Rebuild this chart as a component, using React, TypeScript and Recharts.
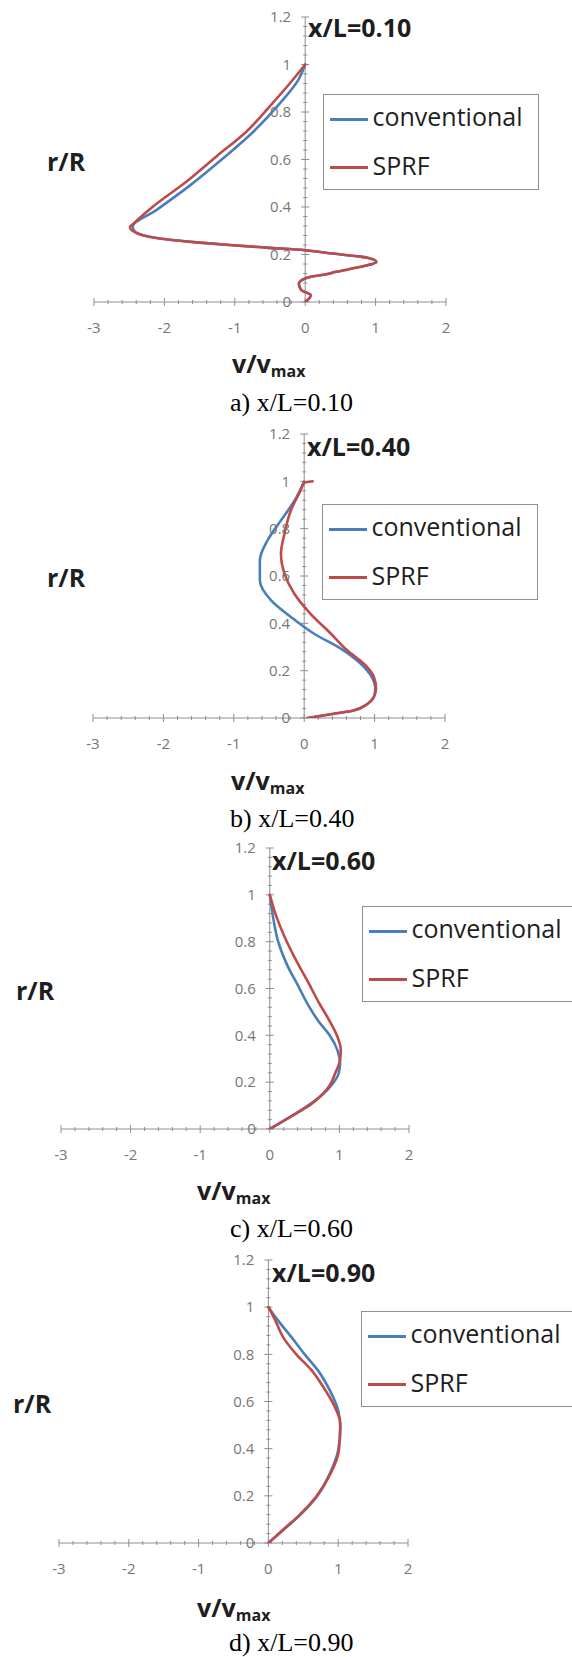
import { ComposedChart, Scatter, XAxis, YAxis, ReferenceLine, Legend } from 'recharts';

// -----------------------------------------------------------------------------
// Radial velocity profiles v/vmax vs r/R at four axial stations x/L
// -----------------------------------------------------------------------------

type Pt = { r: number; v: number };

// x/L = 0.10
const CONV_010: Pt[] = [
  { r: 0, v: 0 }, { r: 0.028, v: 0.08 }, { r: 0.052, v: -0.06 }, { r: 0.077, v: -0.09 },
  { r: 0.098, v: -0.01 }, { r: 0.108, v: 0.11 }, { r: 0.117, v: 0.3 }, { r: 0.126, v: 0.42 },
  { r: 0.147, v: 0.77 }, { r: 0.169, v: 1.01 }, { r: 0.187, v: 0.87 }, { r: 0.204, v: 0.39 },
  { r: 0.218, v: 0 }, { r: 0.229, v: -0.55 }, { r: 0.239, v: -1.03 }, { r: 0.25, v: -1.5 },
  { r: 0.264, v: -1.98 }, { r: 0.281, v: -2.3 }, { r: 0.3, v: -2.43 }, { r: 0.318, v: -2.45 },
  { r: 0.386, v: -2.12 }, { r: 0.49, v: -1.64 }, { r: 0.604, v: -1.17 }, { r: 0.716, v: -0.74 },
  { r: 0.836, v: -0.36 }, { r: 0.934, v: -0.1 }, { r: 1.0, v: 0 },
];
const SPRF_010: Pt[] = [
  { r: 0, v: 0 }, { r: 0.028, v: 0.08 }, { r: 0.052, v: -0.06 }, { r: 0.077, v: -0.09 },
  { r: 0.098, v: -0.01 }, { r: 0.108, v: 0.11 }, { r: 0.117, v: 0.3 }, { r: 0.126, v: 0.42 },
  { r: 0.147, v: 0.77 }, { r: 0.169, v: 1.01 }, { r: 0.187, v: 0.87 }, { r: 0.204, v: 0.39 },
  { r: 0.218, v: 0 }, { r: 0.229, v: -0.55 }, { r: 0.239, v: -1.03 }, { r: 0.25, v: -1.5 },
  { r: 0.264, v: -1.98 }, { r: 0.281, v: -2.31 }, { r: 0.299, v: -2.45 }, { r: 0.316, v: -2.49 },
  { r: 0.33, v: -2.44 }, { r: 0.4, v: -2.17 }, { r: 0.506, v: -1.69 }, { r: 0.611, v: -1.27 },
  { r: 0.716, v: -0.84 }, { r: 0.822, v: -0.51 }, { r: 0.92, v: -0.22 }, { r: 1.0, v: 0 },
];

// x/L = 0.40
const CONV_040: Pt[] = [
  { r: 0, v: 0.05 }, { r: 0.018, v: 0.42 }, { r: 0.032, v: 0.7 }, { r: 0.058, v: 0.89 },
  { r: 0.089, v: 0.99 }, { r: 0.124, v: 1.01 }, { r: 0.173, v: 0.96 }, { r: 0.23, v: 0.8 },
  { r: 0.293, v: 0.52 }, { r: 0.356, v: 0.14 }, { r: 0.427, v: -0.19 }, { r: 0.497, v: -0.47 },
  { r: 0.582, v: -0.63 }, { r: 0.666, v: -0.63 }, { r: 0.751, v: -0.52 }, { r: 0.835, v: -0.33 },
  { r: 0.927, v: -0.12 }, { r: 1.0, v: 0 },
];
const SPRF_040: Pt[] = [
  { r: 0, v: 0.05 }, { r: 0.018, v: 0.42 }, { r: 0.032, v: 0.7 }, { r: 0.058, v: 0.89 },
  { r: 0.089, v: 0.99 }, { r: 0.124, v: 1.02 }, { r: 0.173, v: 0.99 }, { r: 0.223, v: 0.87 },
  { r: 0.286, v: 0.61 }, { r: 0.356, v: 0.38 }, { r: 0.44, v: 0.09 }, { r: 0.525, v: -0.14 },
  { r: 0.61, v: -0.28 }, { r: 0.694, v: -0.33 }, { r: 0.779, v: -0.28 }, { r: 0.877, v: -0.19 },
  { r: 0.962, v: -0.05 }, { r: 0.993, v: 0 }, { r: 1.0, v: 0.12 },
];

// x/L = 0.60
const CONV_060: Pt[] = [
  { r: 0, v: 0 }, { r: 0.06, v: 0.34 }, { r: 0.117, v: 0.63 }, { r: 0.181, v: 0.87 },
  { r: 0.238, v: 0.99 }, { r: 0.281, v: 1.01 }, { r: 0.338, v: 0.97 }, { r: 0.4, v: 0.86 },
  { r: 0.46, v: 0.7 }, { r: 0.53, v: 0.55 }, { r: 0.61, v: 0.41 }, { r: 0.7, v: 0.25 },
  { r: 0.8, v: 0.12 }, { r: 0.9, v: 0.05 }, { r: 1.0, v: 0 },
];
const SPRF_060: Pt[] = [
  { r: 0, v: 0 }, { r: 0.053, v: 0.3 }, { r: 0.103, v: 0.58 }, { r: 0.181, v: 0.85 },
  { r: 0.238, v: 0.94 }, { r: 0.295, v: 1.01 }, { r: 0.338, v: 1.02 }, { r: 0.395, v: 0.97 },
  { r: 0.466, v: 0.85 }, { r: 0.537, v: 0.71 }, { r: 0.622, v: 0.56 }, { r: 0.736, v: 0.35 },
  { r: 0.822, v: 0.21 }, { r: 0.92, v: 0.08 }, { r: 1.0, v: 0 },
];

// x/L = 0.90
const CONV_090: Pt[] = [
  { r: 0, v: 0 }, { r: 0.054, v: 0.21 }, { r: 0.117, v: 0.45 }, { r: 0.195, v: 0.69 },
  { r: 0.294, v: 0.88 }, { r: 0.393, v: 1.0 }, { r: 0.49, v: 1.03 }, { r: 0.562, v: 1.0 },
  { r: 0.647, v: 0.88 }, { r: 0.732, v: 0.71 }, { r: 0.8, v: 0.52 }, { r: 0.873, v: 0.33 },
  { r: 0.943, v: 0.14 }, { r: 1.0, v: 0 },
];
const SPRF_090: Pt[] = [
  { r: 0, v: 0 }, { r: 0.054, v: 0.2 }, { r: 0.117, v: 0.44 }, { r: 0.195, v: 0.68 },
  { r: 0.294, v: 0.89 }, { r: 0.393, v: 1.01 }, { r: 0.506, v: 1.03 }, { r: 0.59, v: 0.93 },
  { r: 0.66, v: 0.79 }, { r: 0.732, v: 0.62 }, { r: 0.8, v: 0.4 }, { r: 0.873, v: 0.21 },
  { r: 0.943, v: 0.1 }, { r: 1.0, v: 0 },
];

const STATIONS = ['0.10', '0.40', '0.60', '0.90'];
const CAPTION_LETTERS = ['a', 'b', 'c', 'd'];
const SERIES_NAMES = ['conventional', 'SPRF'];
const CONV_DATA = [CONV_010, CONV_040, CONV_060, CONV_090];
const SPRF_DATA = [SPRF_010, SPRF_040, SPRF_060, SPRF_090];

const X_TICKS = [-3, -2, -1, 0, 1, 2];
const Y_TICKS = [0, 0.2, 0.4, 0.6, 0.8, 1, 1.2];
const X_DOMAIN: [number, number] = [-3, 2];
const Y_DOMAIN: [number, number] = [0, 1.2];

// minor ticks: 0.2 on v, 0.04 on r
const X_MINOR: number[] = [];
for (let i = -15; i <= 10; i++) if (i % 5 !== 0) X_MINOR.push(i / 5);
const Y_MINOR: number[] = [];
for (let i = 0; i <= 30; i++) if (i % 5 !== 0) Y_MINOR.push(i / 25);

// =============================================================================
// Styling / layout
// =============================================================================

const FONT = "'Open Sans', 'DejaVu Sans', sans-serif";
const SERIF = "'Liberation Serif', 'Times New Roman', serif";
const COLORS = ['#4a7ebb', '#be4b48'];
const AXIS = '#8e8e8e';
const TICK_TEXT = '#767676';
const INK = '#1e1e1e';
const PAGE_W = 572;
const PAGE_H = 1657;
const PAD_TOP = 12;
const AXIS_H = 40;

type Box = { left: number; top: number };
interface PanelLayout {
  plot: { left: number; right: number; top: number; bottom: number };
  legend: Box & { width: number };
  title: Box;
  rLabel: Box;
  vLabel: Box;
  caption: Box;
}

const LAYOUT: PanelLayout[] = [
  {
    plot: { left: 94, right: 446, top: 17, bottom: 302 },
    legend: { left: 323, top: 94, width: 216 },
    title: { left: 308, top: 15 },
    rLabel: { left: 47, top: 149 },
    vLabel: { left: 232, top: 351 },
    caption: { left: 230, top: 390 },
  },
  {
    plot: { left: 93, right: 445, top: 434, bottom: 718 },
    legend: { left: 322, top: 504, width: 216 },
    title: { left: 307, top: 434 },
    rLabel: { left: 47, top: 565 },
    vLabel: { left: 231, top: 768 },
    caption: { left: 230, top: 806 },
  },
  {
    plot: { left: 61, right: 409, top: 848, bottom: 1129 },
    legend: { left: 362, top: 906, width: 230 },
    title: { left: 272, top: 848 },
    rLabel: { left: 16, top: 978 },
    vLabel: { left: 197, top: 1178 },
    caption: { left: 230, top: 1216 },
  },
  {
    plot: { left: 59, right: 408, top: 1260, bottom: 1543 },
    legend: { left: 361, top: 1311, width: 230 },
    title: { left: 272, top: 1260 },
    rLabel: { left: 13, top: 1391 },
    vLabel: { left: 197, top: 1595 },
    caption: { left: 229, top: 1630 },
  },
];

// =============================================================================
// Legend
// =============================================================================

function LegendBox({ width }: { width: number }) {
  const lineTops = [23, 71];
  const textTops = [9, 58];
  return (
    <div
      style={{
        position: 'relative',
        width,
        height: 96,
        boxSizing: 'border-box',
        border: `1.5px solid ${AXIS}`,
        background: '#fff',
        fontFamily: FONT,
        fontSize: 25,
        lineHeight: 1,
        color: INK,
      }}
    >
      {SERIES_NAMES.map((name, i) => (
        <div key={name}>
          <div
            style={{
              position: 'absolute',
              left: 5.5,
              top: lineTops[i],
              width: 38,
              height: 2.5,
              background: COLORS[i],
            }}
          />
          <div style={{ position: 'absolute', left: 48.5, top: textTops[i], whiteSpace: 'nowrap' }}>{name}</div>
        </div>
      ))}
    </div>
  );
}

const renderNone = () => <g />;

// =============================================================================
// One profile panel
// =============================================================================

function ProfilePanel({ idx }: { idx: number }) {
  const lay = LAYOUT[idx];
  const { plot } = lay;
  const chartTop = plot.top - PAD_TOP;
  const chartH = plot.bottom - plot.top + PAD_TOP + AXIS_H;
  const plotW = plot.right - plot.left;
  const plotH = plot.bottom - plot.top;

  // tick half-lengths in data units (major 4px, minor 2px)
  const vPerPx = (X_DOMAIN[1] - X_DOMAIN[0]) / plotW;
  const rPerPx = (Y_DOMAIN[1] - Y_DOMAIN[0]) / plotH;

  const labelStyle = { fontFamily: FONT, fontWeight: 700, fontSize: 25, lineHeight: 1, color: INK };

  return (
    <>
      <div style={{ position: 'absolute', left: 0, top: chartTop }}>
        <ComposedChart
          width={PAGE_W}
          height={chartH}
          margin={{ top: PAD_TOP, right: PAGE_W - plot.right, bottom: 0, left: plot.left }}
        >
          <XAxis
            type="number"
            dataKey="v"
            domain={X_DOMAIN}
            ticks={X_TICKS}
            interval={0}
            allowDataOverflow
            height={AXIS_H}
            tickLine={false}
            axisLine={{ stroke: AXIS, strokeWidth: 1 }}
            tickSize={8}
            tickMargin={12}
            tick={{ fill: TICK_TEXT, fontSize: 15, fontFamily: FONT }}
          />
          <YAxis type="number" dataKey="r" domain={Y_DOMAIN} allowDataOverflow hide width={0} />

          {/* vertical axis through v = 0 */}
          <ReferenceLine x={0} stroke={AXIS} strokeWidth={1} ifOverflow="visible" />

          {X_MINOR.map((t) => (
            <ReferenceLine
              key={`xm${t}`}
              segment={[{ x: t, y: -2 * rPerPx }, { x: t, y: 2 * rPerPx }]}
              stroke={AXIS}
              ifOverflow="visible"
            />
          ))}
          {X_TICKS.map((t) => (
            <ReferenceLine
              key={`xM${t}`}
              segment={[{ x: t, y: -4 * rPerPx }, { x: t, y: 4 * rPerPx }]}
              stroke={AXIS}
              ifOverflow="visible"
            />
          ))}
          {Y_MINOR.map((t) => (
            <ReferenceLine
              key={`ym${t}`}
              segment={[{ x: -2 * vPerPx, y: t }, { x: 2 * vPerPx, y: t }]}
              stroke={AXIS}
              ifOverflow="visible"
            />
          ))}
          {Y_TICKS.map((t) => (
            <ReferenceLine
              key={`yM${t}`}
              segment={[{ x: -4 * vPerPx, y: t }, { x: 4 * vPerPx, y: t }]}
              stroke={AXIS}
              ifOverflow="visible"
              label={{
                value: String(t),
                position: 'left',
                offset: 10,
                fill: TICK_TEXT,
                fontSize: 15,
                fontFamily: FONT,
              }}
            />
          ))}

          {[CONV_DATA[idx], SPRF_DATA[idx]].map((data, i) => (
            <Scatter
              key={SERIES_NAMES[i]}
              name={SERIES_NAMES[i]}
              data={data}
              fill={COLORS[i]}
              shape={renderNone}
              line={{ stroke: COLORS[i], strokeWidth: 2.6, strokeLinejoin: 'round', strokeLinecap: 'round' }}
              lineJointType="monotoneY"
              isAnimationActive={false}
            />
          ))}

          <Legend
            layout="horizontal"
            verticalAlign="middle"
            align="center"
            wrapperStyle={{ left: lay.legend.left, top: lay.legend.top - chartTop, width: lay.legend.width, height: 96 }}
            content={() => <LegendBox width={lay.legend.width} />}
          />
        </ComposedChart>
      </div>

      <div style={{ position: 'absolute', left: lay.title.left, top: lay.title.top, ...labelStyle, whiteSpace: 'nowrap' }}>
        x/L={STATIONS[idx]}
      </div>
      <div style={{ position: 'absolute', left: lay.rLabel.left, top: lay.rLabel.top, ...labelStyle }}>r/R</div>
      <div style={{ position: 'absolute', left: lay.vLabel.left, top: lay.vLabel.top, ...labelStyle, whiteSpace: 'nowrap' }}>
        v/v<span style={{ fontSize: 16, position: 'relative', top: 4 }}>max</span>
      </div>
      <div
        style={{
          position: 'absolute',
          left: lay.caption.left,
          top: lay.caption.top,
          fontFamily: SERIF,
          fontSize: 26,
          lineHeight: 1,
          color: '#000',
          whiteSpace: 'nowrap',
        }}
      >
        {CAPTION_LETTERS[idx]}) x/L={STATIONS[idx]}
      </div>
    </>
  );
}

// =============================================================================
// Page
// =============================================================================

export default function App() {
  return (
    <div
      style={{
        position: 'absolute',
        left: 0,
        top: 0,
        width: PAGE_W,
        height: PAGE_H,
        overflow: 'hidden',
        background: '#fff',
      }}
    >
      {STATIONS.map((s, i) => (
        <ProfilePanel key={s} idx={i} />
      ))}
    </div>
  );
}
